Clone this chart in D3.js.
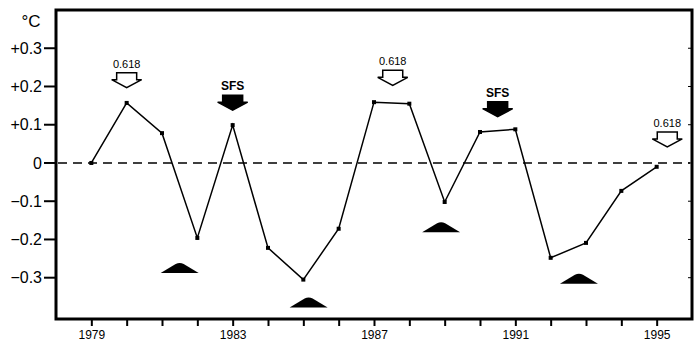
<!DOCTYPE html>
<html>
<head>
<meta charset="utf-8">
<script src="https://cdn.jsdelivr.net/npm/d3@7"></script>
<style>
  body { margin: 0; background: #fff; }
  svg { display: block; font-family: "Liberation Sans", Arial, sans-serif; }
</style>
</head>
<body>
<svg id="chart" width="700" height="351"></svg>
<script>
// Anomalia de temperatura anual (°C), 1979–1995
const years = d3.range(1979, 1996);
const anomaly = [0, 0.157, 0.078, -0.196, 0.099, -0.222, -0.305, -0.172, 0.159,
  0.155, -0.102, 0.081, 0.088, -0.248, -0.209, -0.073, -0.01];

const yTicks = [0.3, 0.2, 0.1, 0, -0.1, -0.2, -0.3];
const xLabelYears = [1979, 1983, 1987, 1991, 1995];

// Setas abertas "0.618": ano (centro) e valor da ponta
const goldenArrows = [
  { year: 1980, tip: 0.197 },
  { year: 1987.53, tip: 0.203 },
  { year: 1995.3, tip: 0.042 },
];
// Setas cheias "SFS"
const sfsArrows = [
  { year: 1983, tip: 0.138 },
  { year: 1990.5, tip: 0.121 },
];
// Triângulos cheios abaixo dos mínimos: ano (centro) e valor da base
const lows = [
  { year: 1981.5, base: -0.288 },
  { year: 1985.15, base: -0.378 },
  { year: 1988.9, base: -0.181 },
  { year: 1992.8, base: -0.316 },
];

const svg = d3.select("#chart");
const L = 56, R = 692, T = 10, B = 319;

const x = d3.scaleLinear().domain([1978, 1996]).range([L, R]);
const y = d3.scaleLinear().domain([-0.408, 0.4]).range([B, T]);

// moldura
svg.append("rect").attr("x", L).attr("y", T).attr("width", R - L).attr("height", B - T)
  .attr("fill", "none").attr("stroke", "#000").attr("stroke-width", 3);

// eixo Y: marcas à esquerda
const fmt = (v) => (v > 0 ? "+" : v < 0 ? "\u2212" : "") + (v === 0 ? "0" : Math.abs(v).toFixed(1));
yTicks.forEach((v) => {
  svg.append("line").attr("x1", L - 12).attr("x2", L).attr("y1", y(v)).attr("y2", y(v))
    .attr("stroke", "#000").attr("stroke-width", 2);
  svg.append("line").attr("x1", R - 4).attr("x2", R).attr("y1", y(v)).attr("y2", y(v))
    .attr("stroke", "#000").attr("stroke-width", 1);
  svg.append("text").attr("x", L - 14).attr("y", y(v)).attr("dy", "0.36em")
    .attr("text-anchor", "end").style("font-size", "16px").text(fmt(v));
});
svg.append("text").attr("x", 31).attr("y", 27).attr("text-anchor", "middle")
  .style("font-size", "17px").text("°C");

// eixo X: marcas para baixo
const xAxis = d3.axisBottom(x).tickValues(years).tickSize(7).tickFormat((d) => xLabelYears.includes(d) ? d : "");
svg.append("g").attr("transform", `translate(0,${B})`).call(xAxis)
  .call((g) => g.select(".domain").remove())
  .call((g) => g.selectAll("line").attr("stroke-width", 2))
  .call((g) => g.selectAll("text").attr("y", 11).style("font-size", "12px").style("font-family", "'Liberation Sans', Arial, sans-serif"));

// linha zero tracejada
svg.append("line").attr("x1", L + 2).attr("x2", R - 2).attr("y1", y(0)).attr("y2", y(0))
  .attr("stroke", "#000").attr("stroke-width", 1.5).attr("stroke-dasharray", "9,6");

// série
const line = d3.line().x((d, i) => x(years[i])).y((d) => y(d));
svg.append("path").datum(anomaly).attr("d", line)
  .attr("fill", "none").attr("stroke", "#000").attr("stroke-width", 1.5);
svg.selectAll(".pt").data(anomaly).join("rect").attr("class", "pt")
  .attr("x", (d, i) => x(years[i]) - 2).attr("y", (d) => y(d) - 2)
  .attr("width", 4).attr("height", 4).attr("fill", "#000");

// seta em bloco apontando para baixo, ponta em (cx, cy)
function blockArrow(cx, cy, filled) {
  const p = [
    [cx - 10, cy - 15], [cx + 10, cy - 15], [cx + 10, cy - 8], [cx + 15, cy - 8],
    [cx, cy], [cx - 15, cy - 8], [cx - 10, cy - 8],
  ];
  svg.append("path").attr("d", "M" + p.join("L") + "Z")
    .attr("fill", filled ? "#000" : "#fff").attr("stroke", "#000").attr("stroke-width", 1.5);
}

goldenArrows.forEach((a) => {
  const cx = x(a.year), cy = y(a.tip);
  blockArrow(cx, cy, false);
  svg.append("text").attr("x", cx).attr("y", cy - 20).attr("text-anchor", "middle")
    .style("font-size", "11px").text("0.618");
});
sfsArrows.forEach((a) => {
  const cx = x(a.year), cy = y(a.tip);
  blockArrow(cx, cy, true);
  svg.append("text").attr("x", cx).attr("y", cy - 20).attr("text-anchor", "middle")
    .style("font-size", "12px").style("font-weight", "bold").text("SFS");
});

// triângulos cheios
lows.forEach((m) => {
  const cx = x(m.year), by = y(m.base);
  svg.append("path")
    .attr("d", `M${cx - 19},${by} L${cx - 4},${by - 9} Q${cx},${by - 11} ${cx + 4},${by - 9} L${cx + 19},${by} Z`)
    .attr("fill", "#000");
});
</script>
</body>
</html>
